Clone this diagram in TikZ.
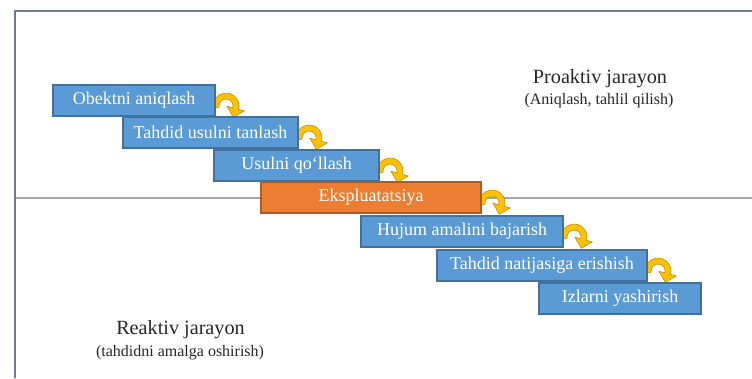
\documentclass[tikz,border=0pt]{standalone}
\usepackage{fontspec}
\setmainfont{LiberationSerif}[Extension=.ttf, UprightFont=*-Regular, BoldFont=*-Bold, ItalicFont=*-Italic, BoldItalicFont=*-BoldItalic]
\definecolor{boxblue}{HTML}{5B9BD5}
\definecolor{boxblueline}{HTML}{41719C}
\definecolor{boxorange}{HTML}{ED7D31}
\definecolor{boxorangeline}{HTML}{AE5A21}
\definecolor{arrowgold}{HTML}{FFC000}
\definecolor{arrowgoldline}{HTML}{C09000}
\definecolor{framecol}{RGB}{112,122,145}
\definecolor{sepcol}{RGB}{166,166,166}
\tikzset{
  stepbox/.style={draw=boxblueline, fill=boxblue, line width=1.1pt, text=white,
    font=\fontsize{18}{20}\selectfont, minimum height=31, inner sep=0pt},
  hotbox/.style={stepbox, draw=boxorangeline, fill=boxorange},
  turnarrow/.style={fill=arrowgold, draw=arrowgoldline, line width=0.6pt},
  framepath/.style={draw=framecol, line width=1.6pt},
  seppath/.style={draw=sepcol, line width=1.2pt},
  bigtitle/.style={font=\fontsize{20.2}{22}\selectfont, text=black!85, inner sep=0pt},
  subtitle/.style={font=\fontsize{16}{18}\selectfont, text=black!85, inner sep=0pt}
}
\newcommand\turnarrowat[1]{%
  \begin{scope}[shift={(#1)}]
    \path[turnarrow] (-1.80,23.26) arc[start angle=170, end angle=375, radius=13]
      -- (29.35,25.92) -- (18.33,32.28) -- (11.97,21.26) -- (17.76,22.81)
      arc[start angle=375, end angle=170, radius=7] -- cycle;
  \end{scope}}
\begin{document}
\begin{tikzpicture}[x=1pt,y=-1pt]
\useasboundingbox (0,0) rectangle (752,378);
% frame and separator
\coordinate (fbl) at (15,378);
\coordinate (ftl) at (15,11);
\coordinate (ftr) at (752,11);
\coordinate (sl) at (15,198);
\coordinate (sr) at (752,198);
\draw[seppath] (sl) -- (sr);
\draw[framepath] (fbl) -- (ftl) -- (ftr);
% boxes (positions)
\path (134,100.5) coordinate (p1) (210.5,132.5) coordinate (p2) (296.5,165.5) coordinate (p3)
      (371,197.5) coordinate (p4) (462,231.5) coordinate (p5) (542,265.5) coordinate (p6)
      (620,298.5) coordinate (p7);
% arrows drawn first, boxes over them
\path (p1) ++(81,-15.5) coordinate (a1);
\path (p2) ++(87.5,-15.5) coordinate (a2);
\path (p3) ++(82.5,-15.5) coordinate (a3);
\path (p4) ++(110,-15.5) coordinate (a4);
\path (p5) ++(101,-15.5) coordinate (a5);
\path (p6) ++(105,-15.5) coordinate (a6);
\turnarrowat{a1}
\turnarrowat{a2}
\turnarrowat{a3}
\turnarrowat{a4}
\turnarrowat{a5}
\turnarrowat{a6}
\node[stepbox, minimum width=162] (b1) at (p1) {Obektni aniqlash};
\node[stepbox, minimum width=175] (b2) at (p2) {Tahdid usulni tanlash};
\node[stepbox, minimum width=165] (b3) at (p3) {Usulni qo‘llash};
\node[hotbox, minimum width=220] (b4) at (p4) {Ekspluatatsiya};
\node[stepbox, minimum width=202] (b5) at (p5) {Hujum amalini bajarish};
\node[stepbox, minimum width=210] (b6) at (p6) {Tahdid natijasiga erishish};
\node[stepbox, minimum width=162] (b7) at (p7) {Izlarni yashirish};
% labels
\node[bigtitle] (pro) at (600,78.5) {Proaktiv jarayon};
\node[subtitle] (prosub) at (599,101) {(Aniqlash, tahlil qilish)};
\node[bigtitle] (rea) at (180.5,330) {Reaktiv jarayon};
\node[subtitle] (reasub) at (180,352.5) {(tahdidni amalga oshirish)};
\end{tikzpicture}
\end{document}
